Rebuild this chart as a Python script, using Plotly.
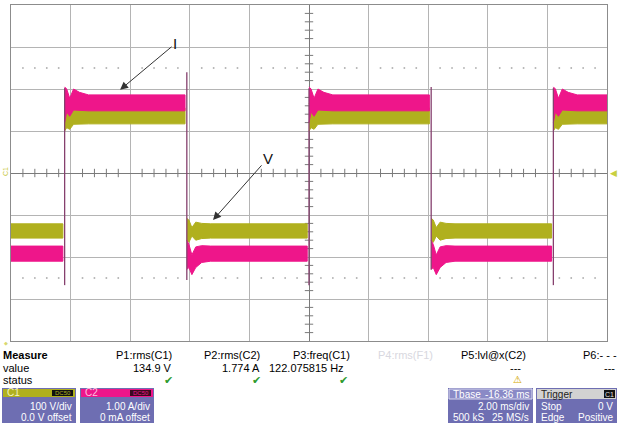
import plotly.graph_objects as go

# ---------------- data ----------------
# time axis in ms (2 ms/div, 10 div), centre = trigger
edge_times = [-8.2, -4.1, 0.0, 4.1, 8.2]          # switching instants (ms)
first_state = "low"

# voltage channel C1 (V) envelopes after an edge: dt (ms), top, bottom
V_high_dt = [0.0, 0.07, 0.17, 0.30, 0.50, 0.80]
V_high_top = [165, 172, 142, 160, 156, 155]
V_high_bot = [100, 108, 104, 116, 117, 117]
V_low_dt = [0.0, 0.07, 0.17, 0.30, 0.50, 0.80]
V_low_top = [-108, -112, -130, -117, -120, -121]
V_low_bot = [-160, -165, -150, -160, -156, -155]

# current channel C2 (A) envelopes after an edge
I_high_dt = [0.0, 0.07, 0.17, 0.30, 0.50, 0.80]
I_high_top = [2.05, 2.00, 1.78, 2.00, 1.92, 1.86]
I_high_bot = [1.20, 1.45, 1.35, 1.50, 1.49, 1.48]
I_low_dt = [0.0, 0.07, 0.17, 0.30, 0.50, 0.80]
I_low_top = [-1.60, -1.70, -1.95, -1.76, -1.73, -1.74]
I_low_bot = [-2.30, -2.25, -2.42, -2.25, -2.13, -2.10]

# switching spikes (A)
spike_top = [2.02, 2.40, 2.02, 2.05, 2.02]
spike_bot = [-2.67, -2.55, -2.67, -2.30, -2.67]

# measurement readout
meas_names = ["P1:rms(C1)", "P2:rms(C2)", "P3:freq(C1)", "P4:rms(F1)", "P5:lvl@x(C2)", "P6:- - -"]
meas_values = ["134.9 V", "1.774 A", "122.075815 Hz", "", "---", "---"]

T_MIN, T_MAX, GAP = -10.0, 10.0, 0.06

# ---------------- helpers ----------------
W, H = 620, 425
L, T, PW, PH = 11, 5, 596, 336


def px(x):
    return (x - L) / PW


def py(y):
    return (T + PH - y) / PH


def segments():
    segs = []
    starts = [T_MIN] + edge_times
    ends = edge_times + [T_MAX]
    state = first_state
    for i, (a, b) in enumerate(zip(starts, ends)):
        segs.append((a, b, state, i > 0))
        state = "high" if state == "low" else "low"
    return segs


def band(dt, top, bot, want):
    xs_all, ys_all = [], []
    for a, b, st, has_edge in segments():
        if st != want:
            continue
        end = b - GAP if b < T_MAX else b
        if has_edge:
            xs = [a + d for d in dt if a + d < end] + [end]
            tp = top[: len(xs) - 1] + [top[-1]]
            bt = bot[: len(xs) - 1] + [bot[-1]]
        else:
            xs = [a, end]
            tp = [top[-1], top[-1]]
            bt = [bot[-1], bot[-1]]
        xs_all += xs + xs[::-1] + [None]
        ys_all += tp + bt[::-1] + [None]
    return xs_all, ys_all


OLIVE = "#B0B01E"
PINK = "#EE168A"
GRID_DARK = "#7A7A7A"

fig = go.Figure()

# decorations: minor ticks on centre cross and dotted rows at +/-2.5 div
tick_t = [T_MIN + k * 0.4 for k in range(1, 50) if k % 5]
fig.add_trace(go.Scatter(x=tick_t, y=[0] * len(tick_t), mode="markers", yaxis="y",
                         marker=dict(symbol="line-ns", size=6, line=dict(color=GRID_DARK, width=1)),
                         hoverinfo="skip", showlegend=False))
tick_v = [-400 + k * 20 for k in range(1, 40) if k % 5]
fig.add_trace(go.Scatter(x=[0] * len(tick_v), y=tick_v, mode="markers", yaxis="y",
                         marker=dict(symbol="line-ew", size=6, line=dict(color=GRID_DARK, width=1)),
                         hoverinfo="skip", showlegend=False))
dot_t = [T_MIN + k * 0.4 for k in range(1, 50) if k % 5]
fig.add_trace(go.Scatter(x=dot_t * 2, y=[250] * len(dot_t) + [-250] * len(dot_t), mode="markers",
                         yaxis="y", marker=dict(symbol="square", size=1.6, color="#A8A8A8"),
                         hoverinfo="skip", showlegend=False))

for dt, tp, bt, st in [(V_high_dt, V_high_top, V_high_bot, "high"), (V_low_dt, V_low_top, V_low_bot, "low")]:
    x, y = band(dt, tp, bt, st)
    fig.add_trace(go.Scatter(x=x, y=y, fill="toself", fillcolor=OLIVE, mode="lines",
                             line=dict(color=OLIVE, width=1), yaxis="y", hoverinfo="skip",
                             showlegend=False))

for dt, tp, bt, st in [(I_high_dt, I_high_top, I_high_bot, "high"), (I_low_dt, I_low_top, I_low_bot, "low")]:
    x, y = band(dt, tp, bt, st)
    fig.add_trace(go.Scatter(x=x, y=y, fill="toself", fillcolor=PINK, mode="lines",
                             line=dict(color=PINK, width=1), yaxis="y2", hoverinfo="skip",
                             showlegend=False))

sx, sy = [], []
for t, a, b in zip(edge_times, spike_top, spike_bot):
    sx += [t, t, None]
    sy += [a, b, None]
fig.add_trace(go.Scatter(x=sx, y=sy, mode="lines", line=dict(color="#86406E", width=1.3),
                         yaxis="y2", hoverinfo="skip", showlegend=False))

# ---------------- bottom panel ----------------
shapes = []


def rect(x0, y0, x1, y1, fill, line=None):
    shapes.append(dict(type="rect", xref="paper", yref="paper", x0=px(x0), x1=px(x1),
                       y0=py(y1), y1=py(y0), fillcolor=fill,
                       line=dict(width=1 if line else 0, color=line or fill)))


BODY = "#6E6EB2"
rect(2, 388, 76, 423, BODY)
rect(3, 389, 75, 397, OLIVE)
rect(52, 390, 73, 396, "#111111")
rect(80, 388, 154, 423, BODY)
rect(81, 389, 153, 397, PINK)
rect(130, 390, 151, 396, "#3A0A20")
rect(448, 388, 533, 423, BODY)
rect(449, 389, 532, 399, "#8A8AC6", "#DADAF0")
rect(536, 388, 617, 423, BODY)
rect(537, 389, 616, 399, "#D2D2D2")
rect(604, 390, 615, 398, "#111111")

anns = []
FONT = "Liberation Sans, Arial, sans-serif"


def ann(text, x, y, anchor="left", size=11, color="#000000", **kw):
    anns.append(dict(text=text, xref="paper", yref="paper", x=px(x), y=py(y), xanchor=anchor,
                     yanchor="middle", showarrow=False, font=dict(family=FONT, size=size, color=color), **kw))


ann("<b>Measure</b>", 1, 355)
ann("value", 1, 368)
ann("status", 1, 380)
name_x = [174, 262, 352, 435, 528, 619]
val_x = [174, 262, 346, 435, 523, 617]
check_x = [168, 256, 343]
for i, (n, v) in enumerate(zip(meas_names, meas_values)):
    ann(n, name_x[i], 355, "right", color="#D8D8E0" if i == 3 else "#000000")
    if v:
        ann(v, val_x[i], 368, "right")
for cx in check_x:
    ann("✔", cx, 380, "center", size=11, color="#2E9B2E")
ann("⚠", 517, 379, "center", size=10, color="#D4A800")

ann("C1", 5, 393, size=10, color="#F4F4C0")
ann("DC50", 62.5, 393, "center", size=6, color=OLIVE)
ann("C2", 83, 393, size=10, color="#FFC0E0")
ann("DC50", 140.5, 393, "center", size=6, color=PINK)
ann("100 V/div", 74, 406, "right", size=10, color="white")
ann("0.0 V offset", 74, 417, "right", size=10, color="white")
ann("1.00 A/div", 152, 406, "right", size=10, color="white")
ann("0 mA offset", 152, 417, "right", size=10, color="white")
ann("Tbase", 451, 394, size=10, color="white")
ann("-16.36 ms", 531, 394, "right", size=10, color="white")
ann("2.00 ms/div", 531, 406, "right", size=10, color="white")
ann("500 kS", 451, 417, size=10, color="white")
ann("25 MS/s", 531, 417, "right", size=10, color="white")
ann("Trigger", 539, 394, size=10, color="#222222")
ann("C1", 609.5, 394, "center", size=7, color="#E0E0E0")
ann("Stop", 539, 406, size=10, color="white")
ann("0 V", 615, 406, "right", size=10, color="white")
ann("Edge", 539, 417, size=10, color="white")
ann("Positive", 615, 417, "right", size=10, color="white")

# channel / trigger markers
ann("C1", 5, 172, "center", size=7, color="#C8C840", textangle=-90)
ann("◀", 613, 173, "center", size=9, color="#C8D040")
ann("◆", 6, 343, "center", size=5, color="#D8D870")

# arrows "I" and "V"
anns.append(dict(text="I", x=-6.34, y=1.98, xref="x", yref="y2", ax=55, ay=-46,
                 showarrow=True, arrowhead=2, arrowsize=1.6, arrowwidth=1, arrowcolor="#333333",
                 font=dict(family=FONT, size=15, color="#111111")))
anns.append(dict(text="V", x=-3.22, y=-112, xref="x", yref="y", ax=55, ay=-62,
                 showarrow=True, arrowhead=2, arrowsize=1.6, arrowwidth=1, arrowcolor="#333333",
                 font=dict(family=FONT, size=15, color="#111111")))

fig.update_layout(
    width=W, height=H,
    margin=dict(l=L, r=W - L - PW, t=T, b=H - T - PH, pad=0),
    paper_bgcolor="white", plot_bgcolor="white",
    showlegend=False,
    xaxis=dict(range=[T_MIN, T_MAX], dtick=2, tick0=T_MIN, showticklabels=False, ticks="",
               showgrid=True, gridcolor="#B4B4B4", gridwidth=1,
               zeroline=True, zerolinecolor=GRID_DARK, zerolinewidth=1,
               showline=True, linecolor="#8C8C8C", linewidth=1, mirror=True, fixedrange=True),
    yaxis=dict(range=[-400, 400], dtick=100, tick0=-400, showticklabels=False, ticks="",
               showgrid=True, gridcolor="#B4B4B4", gridwidth=1,
               zeroline=True, zerolinecolor=GRID_DARK, zerolinewidth=1,
               showline=True, linecolor="#8C8C8C", linewidth=1, mirror=True, fixedrange=True),
    yaxis2=dict(range=[-4, 4], overlaying="y", showticklabels=False, showgrid=False,
                zeroline=False, ticks="", fixedrange=True),
    shapes=shapes,
    annotations=anns,
)

fig.write_html("out.html", config={"displayModeBar": False})
